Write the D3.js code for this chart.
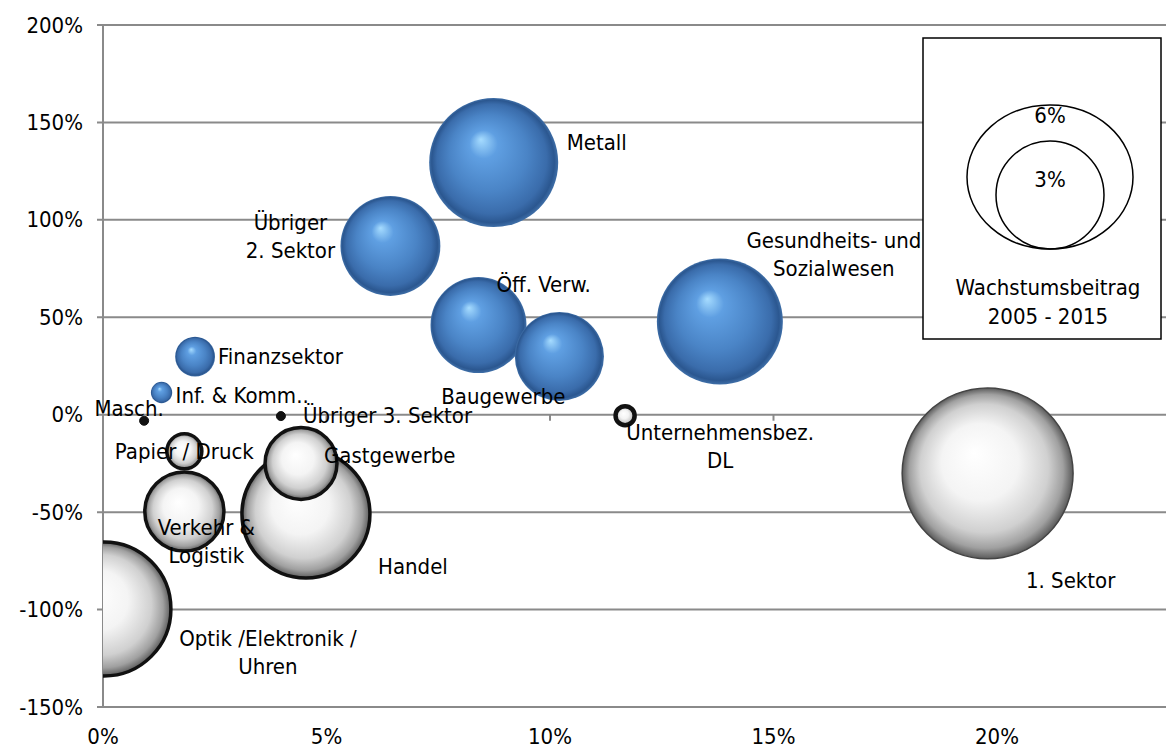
<!DOCTYPE html>
<html>
<head>
<meta charset="utf-8">
<script src="https://cdn.jsdelivr.net/npm/d3@7"></script>
<style>
  body { margin: 0; background: #fff; }
  text { font-family: "DejaVu Sans Condensed", "DejaVu Sans", sans-serif; font-size: 22px; fill: #000; }
</style>
</head>
<body>
<svg id="chart" width="1166" height="749"></svg>
<script>
// sector names (\n = line break in the label)
var sectors = [
  "Metall", "Übriger\n2. Sektor", "Öff. Verw.", "Baugewerbe", "Gesundheits- und\nSozialwesen",
  "Finanzsektor", "Inf. & Komm..", "Masch.", "Übriger 3. Sektor", "Papier / Druck",
  "Verkehr &\nLogistik", "Gastgewerbe", "Handel", "Optik /Elektronik /\nUhren",
  "Unternehmensbez.\nDL", "1. Sektor"
];
// x: growth, y: change, size: contribution in % (negative = white bubble)
var growth = [0.0874, 0.0643, 0.0840, 0.1021, 0.1380, 0.0206, 0.0131, 0.0092, 0.0398, 0.0182, 0.0182, 0.0443, 0.0454, 0.0002, 0.1168, 0.1979];
var change = [1.294, 0.866, 0.460, 0.299, 0.478, 0.298, 0.114, -0.031, -0.007, -0.188, -0.497, -0.250, -0.510, -0.997, -0.005, -0.301];
var contribution = [3.67, 2.20, 2.03, 1.75, 3.50, 0.35, 0.10, -0.018, -0.018, -0.27, -1.38, -1.14, -3.61, -3.96, -0.08, -6.44];

var xTicks = [0, 0.05, 0.10, 0.15, 0.20];
var yTicks = [2, 1.5, 1, 0.5, 0, -0.5, -1, -1.5];
var legendSizes = ["6%", "3%"];
var legendTitle = ["Wachstumsbeitrag", "2005 - 2015"];

// label placement relative to bubble centre: [dx, dy, anchor]
var labelPlace = [
  [73, -20, "start"], [-100, -9, "middle"], [18, -41, "start"], [-56, 40, "middle"], [114, -67, "middle"],
  [23, 0, "start"], [14, 3, "start"], [-15, -12, "middle"], [22, -1, "start"], [0, 0, "middle"],
  [22, 30, "middle"], [23, -8, "start"], [107, 52, "middle"], [164, 44, "middle"],
  [95, 31, "middle"], [83, 107, "middle"]
];

var W = 1166, plotLeft = 103, plotTop = 25, plotBottom = 707;

var svg = d3.select("#chart");
var defs = svg.append("defs");

var x = d3.scaleLinear().domain([0, 0.20]).range([plotLeft, 997]);
var y = d3.scaleLinear().domain([2, -1.5]).range([plotTop, plotBottom]);
var r = d3.scaleSqrt().domain([0, 6]).range([0, 82.5]);
var pct = v => d3.format(".0%")(v).replace("\u2212", "-");

// gradients
var blue = defs.append("radialGradient").attr("id", "gBlue")
  .attr("cx", "50%").attr("cy", "50%").attr("r", "50%").attr("fx", "40%").attr("fy", "32%");
[[0, "#a6dcff"], [0.22, "#5f9fe2"], [0.6, "#4a84c6"], [0.85, "#3a6cab"], [0.95, "#2b5790"], [1, "#3f6fa8"]]
  .forEach(s => blue.append("stop").attr("offset", s[0]).attr("stop-color", s[1]));

var white = defs.append("radialGradient").attr("id", "gWhite")
  .attr("cx", "50%").attr("cy", "50%").attr("r", "50%").attr("fx", "42%").attr("fy", "38%");
[[0, "#ffffff"], [0.45, "#f4f4f4"], [0.75, "#d0d0d0"], [0.9, "#a0a0a0"], [1, "#5a5a5a"]]
  .forEach(s => white.append("stop").attr("offset", s[0]).attr("stop-color", s[1]));

defs.append("clipPath").attr("id", "plotClip")
  .append("rect").attr("x", plotLeft).attr("y", plotTop).attr("width", W - plotLeft).attr("height", plotBottom - plotTop);

// grid lines
svg.append("g").selectAll("line").data(yTicks).enter().append("line")
  .attr("x1", plotLeft - 6).attr("x2", W)
  .attr("y1", d => y(d)).attr("y2", d => y(d))
  .attr("stroke", "#8a8a8a").attr("stroke-width", 2);

svg.append("line").attr("x1", plotLeft).attr("x2", plotLeft).attr("y1", plotTop).attr("y2", plotBottom)
  .attr("stroke", "#8a8a8a").attr("stroke-width", 2);

// x ticks on the 0% line
svg.append("g").selectAll("line").data(xTicks.slice(1)).enter().append("line")
  .attr("x1", d => x(d)).attr("x2", d => x(d))
  .attr("y1", y(0)).attr("y2", y(0) + 6)
  .attr("stroke", "#8a8a8a").attr("stroke-width", 2);

// axis labels
svg.append("g").selectAll("text").data(yTicks).enter().append("text")
  .attr("x", 83).attr("y", d => y(d)).attr("text-anchor", "end")
  .attr("dominant-baseline", "central").text(d => pct(d));

svg.append("g").selectAll("text").data(xTicks).enter().append("text")
  .attr("x", d => x(d)).attr("y", 736).attr("text-anchor", "middle")
  .attr("dominant-baseline", "central").text(d => pct(d));

// bubbles, larger first
var rows = sectors.map((s, i) => ({ name: s, gx: growth[i], cy: change[i], size: contribution[i], lp: labelPlace[i] }));
var order = rows.slice().sort((a, b) => Math.abs(b.size) - Math.abs(a.size));

svg.append("g").attr("clip-path", "url(#plotClip)")
  .selectAll("circle").data(order).enter().append("circle")
  .attr("cx", d => x(d.gx)).attr("cy", d => y(d.cy))
  .attr("r", d => r(Math.abs(d.size)))
  .attr("fill", d => d.size > 0 ? "url(#gBlue)" : (r(-d.size) < 6 ? "#111" : "url(#gWhite)"))
  .attr("stroke", d => d.size > 0 ? "none" : (Math.abs(d.size) > 5 ? "#444" : "#111"))
  .attr("stroke-width", d => {
    var rr = r(Math.abs(d.size));
    if (rr < 6) return 1;
    if (rr < 12) return 4.5;
    return Math.abs(d.size) > 5 ? 1.5 : 3.5;
  });

// data labels
var lab = svg.append("g").selectAll("text").data(rows).enter().append("text")
  .attr("text-anchor", d => d.lp[2]);
lab.each(function(d) {
  var lines = d.name.split("\n");
  var cx = x(d.gx) + d.lp[0], cy = y(d.cy) + d.lp[1];
  var lh = 28;
  lines.forEach((t, k) => {
    d3.select(this).append("tspan")
      .attr("x", cx)
      .attr("y", cy + (k - (lines.length - 1) / 2) * lh)
      .attr("dominant-baseline", "central")
      .text(t);
  });
});

// legend box
var lg = svg.append("g");
lg.append("rect").attr("x", 923).attr("y", 38).attr("width", 238).attr("height", 301)
  .attr("fill", "#fff").attr("stroke", "#000").attr("stroke-width", 1.5);
lg.append("ellipse").attr("cx", 1050).attr("cy", 177).attr("rx", 83).attr("ry", 72)
  .attr("fill", "none").attr("stroke", "#000").attr("stroke-width", 1.5);
lg.append("circle").attr("cx", 1050).attr("cy", 195).attr("r", 54)
  .attr("fill", "none").attr("stroke", "#000").attr("stroke-width", 1.5);
lg.selectAll("text.sz").data(legendSizes).enter().append("text").attr("class", "sz")
  .attr("x", 1050).attr("y", (d, i) => i === 0 ? 115 : 179)
  .attr("text-anchor", "middle").attr("dominant-baseline", "central").text(d => d);
lg.selectAll("text.tt").data(legendTitle).enter().append("text").attr("class", "tt")
  .attr("x", 1048).attr("y", (d, i) => 287 + i * 29)
  .attr("text-anchor", "middle").attr("dominant-baseline", "central").text(d => d);
</script>
</body>
</html>
